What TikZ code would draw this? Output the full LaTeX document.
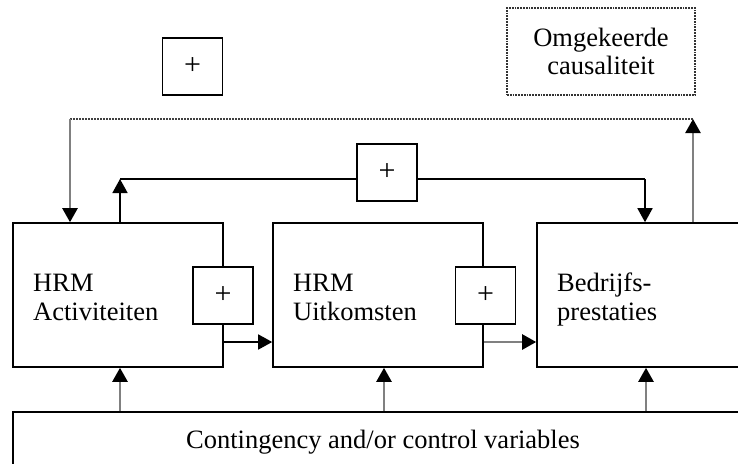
\documentclass[tikz,border=0pt]{standalone}
\usepackage{fontspec}
\setmainfont{Liberation Serif}
\usetikzlibrary{arrows.meta}
\begin{document}
\begin{tikzpicture}[x=1pt,y=-1pt,
  blk/.style={draw=black,line width=1.6pt,inner sep=0pt},
  bigbox/.style={blk,minimum width=210pt,minimum height=144pt},
  plusbox/.style={blk,fill=white,minimum width=60pt,minimum height=57pt,font=\fontsize{30}{30}\selectfont},
  txt/.style={inner sep=0pt,font=\fontsize{26.5}{29}\selectfont},
  dotbox/.style={draw=black!80,line width=1.8pt,densely dotted,inner sep=0pt,minimum width=188pt,minimum height=87pt,align=center,font=\fontsize{26.5}{28}\selectfont},
  arr/.style={line width=1.6pt,-{Triangle[width=15pt,length=14pt]}},
  garr/.style={draw=black!50,line width=2.4pt,-{Triangle[width=15pt,length=14pt,color=black]}},
  dotline/.style={draw=black!75,line width=1.6pt,dash pattern=on 2pt off 1pt},
  thin/.style={line width=1.6pt}]
\useasboundingbox (0,0) rectangle (738,463);
\clip (0,0) rectangle (738,463);
\fill[white] (0,0) rectangle (738,463);
% main boxes
\node[bigbox] (act) at (118,295) {};
\node[bigbox] (uit) at (378,295) {};
\node[blk,minimum width=240pt,minimum height=144pt] (bed) at (657,295) {};
\node[blk,minimum width=740pt,minimum height=60pt] (con) at (383,442) {};
% texts
\node[txt,anchor=base west] (ta1) at (33,291) {HRM};
\node[txt,anchor=base west] (ta2) at (33,320) {Activiteiten};
\node[txt,anchor=base west] (tu1) at (293,291) {HRM};
\node[txt,anchor=base west] (tu2) at (293,320) {Uitkomsten};
\node[txt,anchor=base west] (tb1) at (557,291) {Bedrijfs-};
\node[txt,anchor=base west] (tb2) at (557,320) {prestaties};
\node[txt,anchor=base] (tc) at (383,448) {Contingency and/or control variables};
% reverse causality
\node[dotbox] (omg) at (601,51.5) {Omgekeerde\\causaliteit};
% coordinates
\coordinate (tl) at (70,119);
\coordinate (tr) at (693,119);
\coordinate (ml) at (120,179);
\coordinate (mr) at (645,179);
\coordinate (h1) at (0,342);
\coordinate (v1) at (120,0);
\coordinate (v2) at (384,0);
\coordinate (v3) at (646,0);
% connectors
\draw[arr] (act.east |- h1) -- (uit.west |- h1);
\draw[garr] (uit.east |- h1) -- (bed.west |- h1);
\draw[garr] (v1 |- con.north) -- (v1 |- act.south);
\draw[garr] (v2 |- con.north) -- (v2 |- uit.south);
\draw[garr] (v3 |- con.north) -- (v3 |- bed.south);
\draw[dotline] (tl) -- (tr);
\draw[garr] (tl) -- (tl |- act.north);
\draw[garr] (tr |- bed.north) -- (tr);
% plus boxes
\node[plusbox] (p1) at (223,295.5) {+};
\node[plusbox] (p2) at (485.5,295.5) {+};
\node[plusbox] (p3) at (387,172.5) {+};
\node[plusbox] (p4) at (192.5,66.5) {+};
\draw[arr] (ml |- act.north) -- (ml);
\draw[thin] (ml) -- (p3.west |- ml);
\draw[thin] (p3.east |- mr) -- (mr);
\draw[arr] (mr) -- (mr |- bed.north);
\end{tikzpicture}
\end{document}
